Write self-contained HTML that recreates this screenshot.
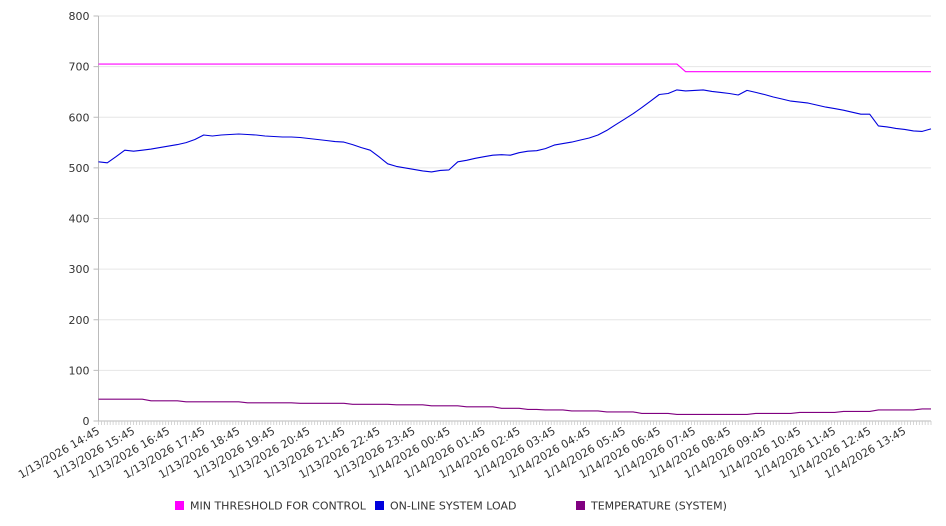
<!DOCTYPE html>
<html><head><meta charset="utf-8"><style>
html,body{margin:0;padding:0;background:#fff;}
svg{display:block;font-family:"DejaVu Sans","Liberation Sans",sans-serif;}
</style></head><body>
<svg id="chart" width="946" height="526" xmlns="http://www.w3.org/2000/svg">
<g id="grid"></g>
<g id="xaxis"></g>
<g id="yaxis"></g>
<g id="series"></g>
<g id="legend"></g>
</svg>
<script>
const xLabels = ["1/13/2026 14:45","1/13/2026 15:45","1/13/2026 16:45","1/13/2026 17:45","1/13/2026 18:45","1/13/2026 19:45","1/13/2026 20:45","1/13/2026 21:45","1/13/2026 22:45","1/13/2026 23:45","1/14/2026 00:45","1/14/2026 01:45","1/14/2026 02:45","1/14/2026 03:45","1/14/2026 04:45","1/14/2026 05:45","1/14/2026 06:45","1/14/2026 07:45","1/14/2026 08:45","1/14/2026 09:45","1/14/2026 10:45","1/14/2026 11:45","1/14/2026 12:45","1/14/2026 13:45"];
const yTicks = [0,100,200,300,400,500,600,700,800];
const seriesNames = ["MIN THRESHOLD FOR CONTROL","ON-LINE SYSTEM LOAD","TEMPERATURE (SYSTEM)"];
const seriesColors = ["#ff00ff","#0000dd","#800080"];
const loadValues = [512,510,522,535,533,535,537,540,543,546,550,556,565,563,565,566,567,566,565,563,562,561,561,560,558,556,554,552,551,546,540,535,522,508,503,500,497,494,492,495,496,512,515,519,522,525,526,525,530,533,534,538,545,548,551,555,559,565,574,585,596,607,619,632,645,647,654,652,653,654,651,649,647,644,653,649,645,640,636,632,630,628,624,620,617,614,610,606,606,583,581,578,576,573,572,577];
const thresholdValues = [705,705,705,705,705,705,705,705,705,705,705,705,705,705,705,705,705,705,705,705,705,705,705,705,705,705,705,705,705,705,705,705,705,705,705,705,705,705,705,705,705,705,705,705,705,705,705,705,705,705,705,705,705,705,705,705,705,705,705,705,705,705,705,705,705,705,705,690,690,690,690,690,690,690,690,690,690,690,690,690,690,690,690,690,690,690,690,690,690,690,690,690,690,690,690,690];
const tempValues = [43,43,43,43,43,43,40,40,40,40,38,38,38,38,38,38,38,36,36,36,36,36,36,35,35,35,35,35,35,33,33,33,33,33,32,32,32,32,30,30,30,30,28,28,28,28,25,25,25,23,23,22,22,22,20,20,20,20,18,18,18,18,15,15,15,15,13,13,13,13,13,13,13,13,13,15,15,15,15,15,17,17,17,17,17,19,19,19,19,22,22,22,22,22,24,24];

const NS="http://www.w3.org/2000/svg";
const X0=98.5, X1=931, Y0=421, Y1=16, HOURS=23.75, STEP=0.25;
function xs(t){return X0+(t/HOURS)*(X1-X0);}
function ys(v){return Y0-(v/800)*(Y0-Y1);}
function mk(tag,attrs,parent){const e=document.createElementNS(NS,tag);for(const k in attrs)e.setAttribute(k,attrs[k]);parent.appendChild(e);return e;}
const grid=document.getElementById('grid'),xa=document.getElementById('xaxis'),ya=document.getElementById('yaxis'),sg=document.getElementById('series'),lg=document.getElementById('legend');

yTicks.forEach(v=>{
  const y=ys(v);
  if(v>0){const l=mk('line',{x1:X0,x2:X1,y1:y,y2:y,stroke:'#e6e6e6','stroke-width':1},grid);
  
  }
  mk('line',{x1:X0-5,x2:X0,y1:y,y2:y,stroke:'#bbb','stroke-width':1},ya);
  const t=mk('text',{x:X0-9,y:y+4,'text-anchor':'end','font-size':11,fill:'#333'},ya);
  t.textContent=v;
  
  
});
mk('line',{x1:X0,x2:X0,y1:Y1,y2:Y0,stroke:'#bbb','stroke-width':1},ya);
mk('line',{x1:X0,x2:X1,y1:Y0,y2:Y0,stroke:'#bbb','stroke-width':1},xa);
for(let m=0;m<=HOURS*12;m++){const x=xs(m/12);mk('line',{x1:x,x2:x,y1:Y0,y2:Y0+4,stroke:'#ccc','stroke-width':0.8},xa);}
xLabels.forEach((s,i)=>{
  const x=xs(i)+2;
  const t=mk('text',{x:x,y:Y0+12,'text-anchor':'end','font-size':11,fill:'#333',transform:`rotate(-30 ${x} ${Y0+12})`},xa);
  t.textContent=s;
  
  
});
function drawLine(vals,color,name){
  const pts=vals.map((v,i)=>xs(i*STEP).toFixed(1)+','+ys(v).toFixed(1)).join(' ');
  const p=mk('polyline',{points:pts,fill:'none',stroke:color,'stroke-width':1.1,'stroke-linejoin':'round'},sg);
  
  
}
drawLine(tempValues,seriesColors[2],'temperature-line');
drawLine(thresholdValues,seriesColors[0],'threshold-line');
drawLine(loadValues,seriesColors[1],'load-line');

const legX=[175,375,576];
seriesNames.forEach((n,i)=>{
  const g=mk('g',{},lg);
  
  
  mk('rect',{x:legX[i],y:501,width:9,height:9,fill:seriesColors[i]},g);
  const t=mk('text',{x:legX[i]+15,y:509.5,'font-size':11,fill:'#333'},g);
  t.textContent=n;
});
</script>
</body></html>
